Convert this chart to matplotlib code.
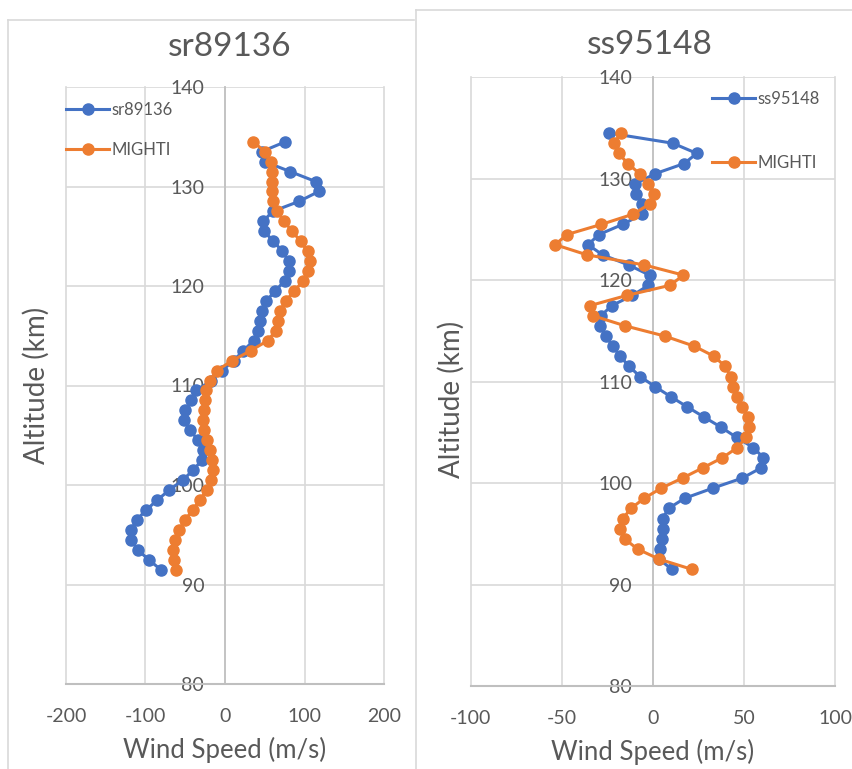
import matplotlib
matplotlib.use("Agg")
import matplotlib.pyplot as plt
from matplotlib.lines import Line2D
import numpy as np

plt.rcParams['font.family'] = ['Lato', 'DejaVu Sans']

# Altitudes (km), top to bottom
altitude = [134.5, 133.5, 132.5, 131.5, 130.5, 129.5, 128.5, 127.5, 126.5, 125.5,
            124.5, 123.5, 122.5, 121.5, 120.5, 119.5, 118.5, 117.5, 116.5, 115.5,
            114.5, 113.5, 112.5, 111.5, 110.5, 109.5, 108.5, 107.5, 106.5, 105.5,
            104.5, 103.5, 102.5, 101.5, 100.5, 99.5, 98.5, 97.5, 96.5, 95.5,
            94.5, 93.5, 92.5, 91.5]

# Left chart: sr89136
sr89136 = [76, 46, 50, 82, 114, 118, 93, 60, 48, 49,
           61, 72, 80, 81, 75, 63, 52, 46, 44, 42,
           36, 23, 11, -4, -17, -36, -43, -50, -51.5, -44,
           -33.5, -28, -29, -40, -53, -70, -85, -99, -111, -118,
           -118, -110, -96, -81]
mighti_left = [35.6, 50, 57.3, 59.4, 59.4, 59, 60.7, 65.3, 74.5, 84.5,
               95, 103.8, 106.7, 104.6, 98.3, 87, 76.6, 69, 67, 64,
               53.6, 32.2, 9.2, -10.5, -18.8, -24.3, -25, -26.4, -27.2, -26,
               -23, -18.8, -15.9, -15, -17, -23, -31.4, -40.6, -50, -57.7,
               -62.8, -65, -64.4, -61.5]

# Right chart: ss95148
ss95148 = [-23.8, 11, 24.1, 17.2, 1.3, -9.7, -9.3, -6, -5.9, -16.6,
           -29.6, -35.6, -27.6, -13.3, -1.8, -2.4, -11.2, -22.5, -28.5, -28.9,
           -25.8, -22.1, -17.9, -13, -7, 1.3, 10, 19, 28.2, 37.5,
           46, 55.2, 60.7, 59.4, 49.2, 32.9, 17.4, 8.6, 5.3, 5.3,
           4.9, 4, 3.5, 10.4]
mighti_right = [-17.4, -21.4, -18.8, -13.7, -7.3, -2.4, 0.4, -1.8, -11, -28.3,
                -47.2, -53.6, -36.2, -4.6, 16.8, 9.5, -14.3, -34.4, -32.9, -15.2,
                6.4, 22.7, 33.6, 39.7, 42.8, 44.2, 46.4, 49.2, 52.5, 53,
                51.2, 46.4, 38.2, 27.4, 16.3, 4.6, -4.8, -12, -16.5, -17.9,
                -15.5, -8.4, 3.5, 21.4]

left_xticks = [-200, -100, 0, 100, 200]
right_xticks = [-100, -50, 0, 50, 100]
yticks = [80, 90, 100, 110, 120, 130, 140]

BLUE = '#4472C4'
ORANGE = '#ED7D31'
TXT = '#595959'
GRID = '#d9d9d9'
AXIS = '#bfbfbf'

fig = plt.figure(figsize=(8.53, 7.69), dpi=100)

# chart frames
def fline(x0, y0, x1, y1):
    fig.add_artist(Line2D([x0 / 853, x1 / 853], [1 - y0 / 769, 1 - y1 / 769],
                          color=GRID, lw=1.2, transform=fig.transFigure))
fline(8, 20, 414, 20)
fline(8, 20, 8, 769)
fline(416, 10, 853, 10)
fline(416, 10, 416, 769)


def make(ax, x1, x2, name, xticks, lim, title, title_xy, leg_anchor, leg_spacing,
         ylab_x, ylab_y):
    ax.plot(x1, altitude, '-o', color=BLUE, lw=2.2, ms=8, label=name, zorder=3)
    ax.plot(x2, altitude, '-o', color=ORANGE, lw=2.2, ms=8, label='MIGHTI', zorder=4)
    ax.set_xlim(-lim, lim)
    ax.set_ylim(80, 140)
    ax.set_xticks(xticks)
    ax.set_yticks(yticks)
    ax.set_xticklabels([str(t) for t in xticks])
    ax.set_yticklabels([str(t) for t in yticks])
    ax.grid(True, color=GRID, lw=1.2, zorder=0)
    ax.set_axisbelow(True)
    for ln in ax.get_xgridlines() + ax.get_ygridlines():
        ln.set_clip_on(False)
    ax.spines['top'].set_visible(False)
    ax.spines['right'].set_visible(False)
    ax.spines['left'].set_position(('data', 0))
    ax.spines['left'].set_color(AXIS)
    ax.spines['left'].set_linewidth(1.2)
    ax.spines['bottom'].set_color(AXIS)
    ax.spines['bottom'].set_linewidth(1.5)
    ax.tick_params(axis='both', length=0, labelsize=14, labelcolor=TXT)
    ax.tick_params(axis='x', pad=17)
    ax.tick_params(axis='y', pad=15)
    ax.set_xlabel('Wind Speed (m/s)', fontsize=18.5, color=TXT, labelpad=9)
    ax.set_ylabel('Altitude (km)', fontsize=20, color=TXT)
    ax.yaxis.set_label_coords(ylab_x, ylab_y)
    fig.text(title_xy[0] / 853, 1 - title_xy[1] / 769, title, fontsize=24,
             color=TXT, ha='center', va='center')
    ax.patch.set_alpha(0)
    leg = ax.legend(loc='upper left', bbox_to_anchor=leg_anchor, frameon=False,
                    fontsize=12, labelspacing=leg_spacing, handlelength=2.6,
                    handletextpad=0.15, borderpad=0, borderaxespad=0)
    for t in leg.get_texts():
        t.set_color(TXT)


ax1 = fig.add_axes([66 / 853, 1 - 684 / 769, 318 / 853, 597 / 769])
make(ax1, sr89136, mighti_left, 'sr89136', left_xticks, 200, 'sr89136', (230, 47),
     (0.0, 0.975), 1.45, -0.05, 0.50)

ax2 = fig.add_axes([470.7 / 853, 1 - 686 / 769, 364.3 / 853, 608.7 / 769])
make(ax2, ss95148, mighti_right, 'ss95148', right_xticks, 100, 'ss95148', (650, 45),
     (0.662, 0.978), 2.9, -0.016, 0.47)

fig.savefig('out.png', dpi=100)
